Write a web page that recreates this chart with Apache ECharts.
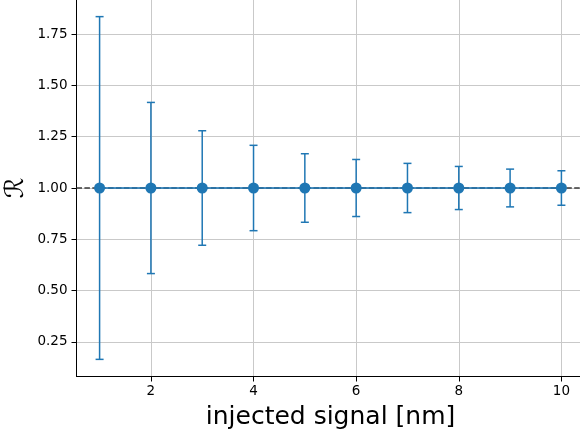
<!DOCTYPE html>
<html>
<head>
<meta charset="utf-8">
<script src="https://cdn.jsdelivr.net/npm/echarts@6/dist/echarts.min.js"></script>
<style>
  html, body { margin: 0; padding: 0; background: #fff; }
  #chart { width: 580px; height: 436px; }
</style>
</head>
<body>
<div id="chart"></div>
<script>
// injected signal levels [nm]
const signal = [1, 2, 3, 4, 5, 6, 7, 8, 9, 10];
// recovered ratio R at each level
const ratio = [1.0, 1.0, 1.0, 1.0, 1.0, 1.0, 1.0, 1.0, 1.0, 1.0];
// symmetric uncertainty on R
const ratioErr = [0.835, 0.417, 0.279, 0.208, 0.167, 0.139, 0.12, 0.105, 0.092, 0.084];
// tick labels
const xTicks = [2, 4, 6, 8, 10];
const yTicks = [0.25, 0.5, 0.75, 1.0, 1.25, 1.5, 1.75];
// reference level
const refLevel = 1.0;

// axis ranges with a 5% margin around the data
const xMin = 0.55, xMax = 10.45;
const yMin = 0.0815, yMax = 1.9185;

const BLUE = '#1f77b4';
const points = signal.map((x, i) => [x, ratio[i]]);
const bars = signal.map((x, i) => [x, ratio[i] - ratioErr[i], ratio[i] + ratioErr[i]]);

const chart = echarts.init(document.getElementById('chart'), null, { renderer: 'canvas' });

const font = 'DejaVu Sans';

chart.setOption({
  animation: false,
  backgroundColor: '#ffffff',
  grid: {
    left: 76.5, top: -0.5, right: -4.5, bottom: 59.5,
    outerBoundsMode: 'none',
    containLabel: false,
    show: true, borderColor: '#999', borderWidth: 1, backgroundColor: 'transparent'
  },
  xAxis: {
    type: 'value',
    min: xMin, max: xMax,
    name: 'injected signal [nm]',
    nameLocation: 'middle',
    nameGap: 28,
    nameMoveOverlap: false,
    nameTextStyle: { fontFamily: font, fontSize: 25, color: '#000' },
    axisLine: { show: true, onZero: false, lineStyle: { color: '#000', width: 1 } },
    axisTick: { show: true, inside: false, length: 5, customValues: xTicks, lineStyle: { color: '#000', width: 1 } },
    axisLabel: { customValues: xTicks, margin: 8, fontFamily: font, fontSize: 13.5, color: '#000' },
    splitLine: { show: true, lineStyle: { color: '#c9c9c9', width: 1 } }
  },
  yAxis: {
    type: 'value',
    min: yMin, max: yMax,
    name: '\u211B',
    nameLocation: 'middle',
    nameGap: 47,
    nameMoveOverlap: false,
    nameTextStyle: { fontFamily: font, fontSize: 26, fontStyle: 'italic', color: '#000' },
    axisLine: { show: true, onZero: false, lineStyle: { color: '#000', width: 1 } },
    axisTick: { show: true, inside: false, length: 5, customValues: yTicks, lineStyle: { color: '#000', width: 1 } },
    axisLabel: {
      customValues: yTicks, margin: 9, fontFamily: font, fontSize: 13.5, color: '#000',
      formatter: v => v.toFixed(2)
    },
    splitLine: { show: true, lineStyle: { color: '#c9c9c9', width: 1 } }
  },
  series: [
    {
      // dashed reference level across the full axis width
      type: 'line',
      z: 2,
      silent: true,
      symbol: 'none',
      data: [[xMin, refLevel], [xMax, refLevel]],
      lineStyle: { color: '#3a3a3a', width: 1.5, type: [5.5, 2.4] }
    },
    {
      // error bars with caps
      type: 'custom',
      z: 3,
      data: bars,
      renderItem: function (params, api) {
        const x = api.value(0);
        const lo = api.coord([x, api.value(1)]);
        const hi = api.coord([x, api.value(2)]);
        const cap = 4;
        const style = { stroke: BLUE, lineWidth: 1.5 };
        return {
          type: 'group',
          children: [
            { type: 'line', shape: { x1: lo[0], y1: lo[1], x2: hi[0], y2: hi[1] }, style },
            { type: 'line', shape: { x1: lo[0] - cap, y1: lo[1], x2: lo[0] + cap, y2: lo[1] }, style },
            { type: 'line', shape: { x1: hi[0] - cap, y1: hi[1], x2: hi[0] + cap, y2: hi[1] }, style }
          ]
        };
      }
    },
    {
      type: 'line',
      z: 4,
      data: points,
      symbol: 'circle',
      symbolSize: 11,
      showSymbol: true,
      itemStyle: { color: BLUE, opacity: 1 },
      lineStyle: { color: BLUE, width: 1.8, opacity: 0.8 }
    }
  ]
});
</script>
</body>
</html>
